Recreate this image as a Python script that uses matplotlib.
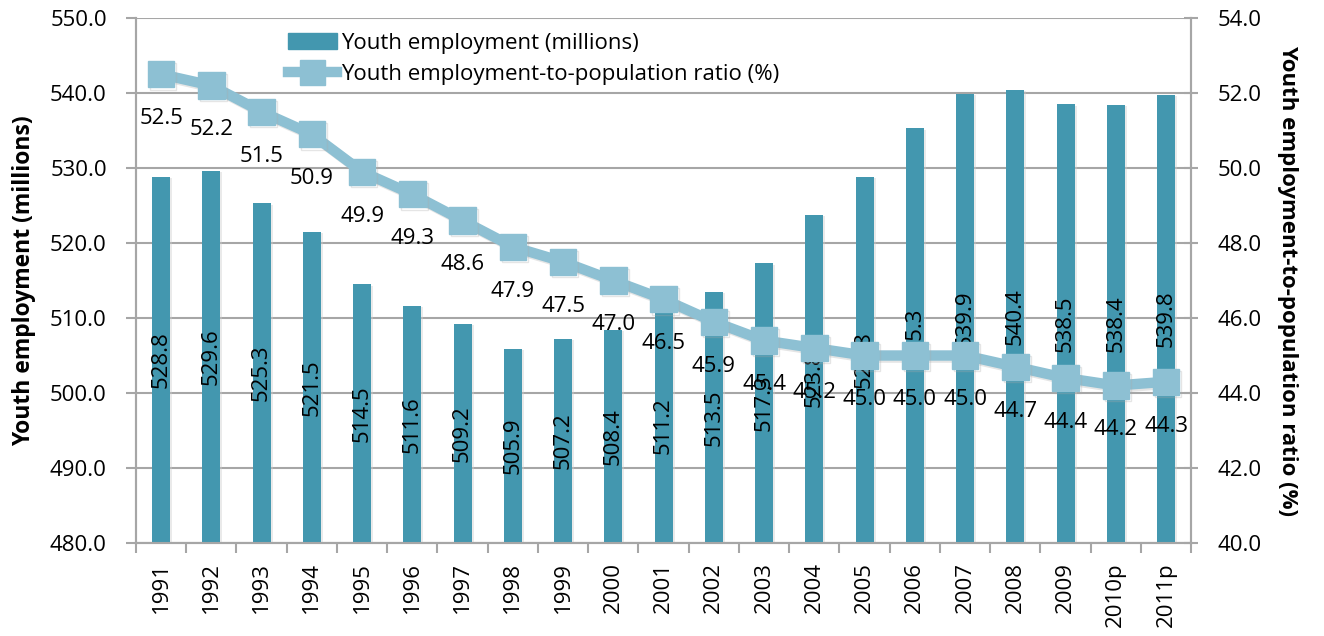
import matplotlib.pyplot as plt
import matplotlib.patheffects as pe
from matplotlib.lines import Line2D
from matplotlib.patches import Patch
import numpy as np

years = ['1991', '1992', '1993', '1994', '1995', '1996', '1997', '1998', '1999', '2000',
         '2001', '2002', '2003', '2004', '2005', '2006', '2007', '2008', '2009', '2010p', '2011p']
employment = [528.8, 529.6, 525.3, 521.5, 514.5, 511.6, 509.2, 505.9, 507.2, 508.4,
              511.2, 513.5, 517.3, 523.8, 528.8, 535.3, 539.9, 540.4, 538.5, 538.4, 539.8]
ratio = [52.5, 52.2, 51.5, 50.9, 49.9, 49.3, 48.6, 47.9, 47.5, 47.0,
         46.5, 45.9, 45.4, 45.2, 45.0, 45.0, 45.0, 44.7, 44.4, 44.2, 44.3]

plt.rcParams['font.family'] = ['Open Sans', 'DejaVu Sans']
bar_color = '#4397AF'
line_color = '#8DC0D3'
grid_color = '#A6A6A6'
fs = 16

fig = plt.figure(figsize=(13.24, 6.36), dpi=100)
ax = fig.add_axes([0.1027, 0.1462, 0.797, 0.8255])
x = np.arange(len(years))

shadow = [pe.SimplePatchShadow(offset=(1.5, -1), shadow_rgbFace='#CCCCCC', alpha=0.4), pe.Normal()]
ax.bar(x, np.array(employment) - 480, bottom=480, width=0.36, color=bar_color,
       zorder=3, path_effects=shadow)
for xi, v in zip(x, employment):
    ax.text(xi, (480 + v) / 2, f'{v:.1f}', rotation=90, ha='center', va='center',
            fontsize=fs, zorder=4)

ax.set_ylim(480, 550)
ax.set_yticks(np.arange(480, 551, 10))
ax.set_yticklabels([f'{v:.1f}' for v in np.arange(480, 551, 10)], fontsize=fs)
ax.set_xlim(-0.5, len(years) - 0.5)
ax.set_xticks(x)
ax.set_xticklabels(years, rotation=90, fontsize=fs)
ax.set_xticks(np.arange(-0.5, len(years), 1), minor=True)
ax.tick_params(axis='x', which='major', length=0, pad=14)
ax.tick_params(axis='x', which='minor', length=7, color=grid_color, width=1.5)
ax.tick_params(axis='y', length=7, color=grid_color, width=1.5, pad=14)
ax.grid(axis='y', color=grid_color, linewidth=1.5, zorder=0)
ax.set_axisbelow(True)
ax.spines['top'].set_visible(False)
for s in ['left', 'bottom', 'right']:
    ax.spines[s].set_color(grid_color)
    ax.spines[s].set_linewidth(1.5)
ax.set_ylabel('Youth employment (millions)', fontsize=16.5, fontweight='bold', labelpad=10)

ax2 = ax.twinx()
line_fx = [pe.SimpleLineShadow(offset=(1.5, -1.5), shadow_color='#AAAAAA', alpha=0.3), pe.Normal()]
ax2.plot(x, ratio, color=line_color, linewidth=7.5, marker='s', markersize=19,
         zorder=5, path_effects=line_fx)
for xi, v in zip(x, ratio):
    ax2.annotate(f'{v:.1f}', (xi, v), xytext=(0, -32), textcoords='offset points',
                 ha='center', va='center', fontsize=fs)
ax2.set_ylim(40, 54)
ax2.set_yticks(np.arange(40, 54.1, 2))
ax2.set_yticklabels([f'{v:.1f}' for v in np.arange(40, 54.1, 2)], fontsize=fs)
ax2.tick_params(axis='y', length=10, color=grid_color, width=1.5, direction='inout', pad=14)
ax2.spines['top'].set_visible(False)
for s in ['left', 'bottom', 'right']:
    ax2.spines[s].set_color(grid_color)
    ax2.spines[s].set_linewidth(1.5)
ax2.set_ylabel('Youth employment-to-population ratio (%)', fontsize=16, fontweight='bold',
               rotation=270, labelpad=26)

handles = [Patch(color=bar_color),
           Line2D([], [], color=line_color, linewidth=7.5, marker='s', markersize=18)]
ax2.legend(handles, ['Youth employment (millions)', 'Youth employment-to-population ratio (%)'],
           loc='upper left', bbox_to_anchor=(0.125, 1.01), frameon=False, fontsize=fs,
           handlelength=2.2, handletextpad=0.2, labelspacing=0.45)

fig.savefig('out.png', dpi=100)
